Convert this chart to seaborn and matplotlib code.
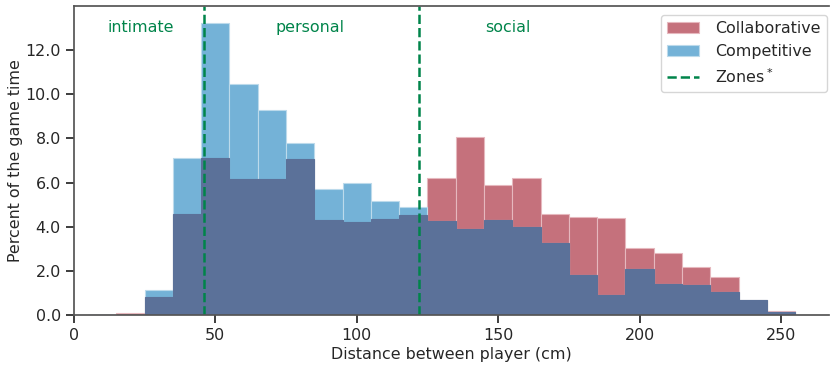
import numpy as np
import pandas as pd
import matplotlib
matplotlib.use("Agg")
import matplotlib.pyplot as plt
import seaborn as sns

# Histogram bin edges (cm) and percent of game time in each bin
bin_edges = list(range(5, 256, 10))
collaborative = [0.00, 0.09, 0.80, 4.59, 7.12, 6.17, 6.17, 7.08, 4.29, 4.20, 4.36, 4.54,
                 6.22, 8.08, 5.90, 6.22, 4.59, 4.44, 4.41, 3.03, 2.82, 2.17, 1.74, 0.69, 0.20]
competitive = [0.00, 0.00, 1.12, 7.11, 13.22, 10.46, 9.28, 7.77, 5.72, 5.99, 5.18, 4.91,
               4.24, 3.88, 4.32, 4.00, 3.28, 1.83, 0.92, 2.10, 1.42, 1.37, 1.06, 0.66, 0.12]

# Proxemic zone boundaries (cm) and zone names
zone_bounds = [46, 122]
zone_names = ["intimate", "personal", "social"]
zone_label_x = [23.5, 83.5, 153.5]

edges = np.array(bin_edges, dtype=float)
centers = (edges[:-1] + edges[1:]) / 2
df = pd.DataFrame({
    "dist": centers,
    "collab": collaborative,
    "comp": competitive,
})
df["both"] = np.minimum(df["collab"], df["comp"])

sns.set_theme(style="ticks")
plt.rcParams["font.family"] = ["DejaVu Sans"]

RED = "#c5717c"
BLUE = "#74b2d7"
DARK = "#5b7199"
GREEN = "#00844a"
FS = 11.4

fig = plt.figure(figsize=(8.3, 3.65), dpi=100)
ax = fig.add_axes([0.089, 0.137, 0.91, 0.847])

common = dict(x="dist", bins=list(bin_edges), stat="count", alpha=1.0, linewidth=0.8)
sns.histplot(data=df, weights="collab", color=RED, edgecolor="#e6b8be",
             label="Collaborative", ax=ax, **common)
sns.histplot(data=df, weights="comp", color=BLUE, edgecolor="#bcdaeb",
             label="Competitive", ax=ax, **common)
sns.histplot(data=df, weights="both", color=DARK, edgecolor=DARK, ax=ax, **common)

for i, xb in enumerate(zone_bounds):
    ax.axvline(xb, color=GREEN, linestyle="--", linewidth=1.8,
               label="Zones$^*$" if i == 0 else None)
for name, xl in zip(zone_names, zone_label_x):
    ax.text(xl, 13.0, name, color=GREEN, fontsize=FS, ha="center", va="center")

ax.set_xlim(0, 267)
ax.set_ylim(0, 14)
ax.set_yticks(np.arange(0, 13, 2))
ax.set_yticklabels([f"{v:.1f}" for v in np.arange(0, 13, 2)])
ax.set_xticks([0, 50, 100, 150, 200, 250])
ax.tick_params(labelsize=FS, colors="#262626")
ax.set_xlabel("Distance between player (cm)", fontsize=FS, labelpad=3)
ax.set_ylabel("Percent of the game time", fontsize=FS, labelpad=1.5)
for s in ["top", "left", "bottom"]:
    ax.spines[s].set_visible(True)
    ax.spines[s].set_color("#555555")
ax.spines["right"].set_visible(False)

handles, labels = ax.get_legend_handles_labels()
order = [labels.index(n) for n in ["Collaborative", "Competitive", "Zones$^*$"]]
ax.legend([handles[i] for i in order], [labels[i] for i in order],
          loc="upper right", fontsize=FS, frameon=True, handlelength=2.0,
          handletextpad=1.0, borderaxespad=0.15, bbox_to_anchor=(1.0, 0.978))

fig.savefig("out.png", dpi=100)
